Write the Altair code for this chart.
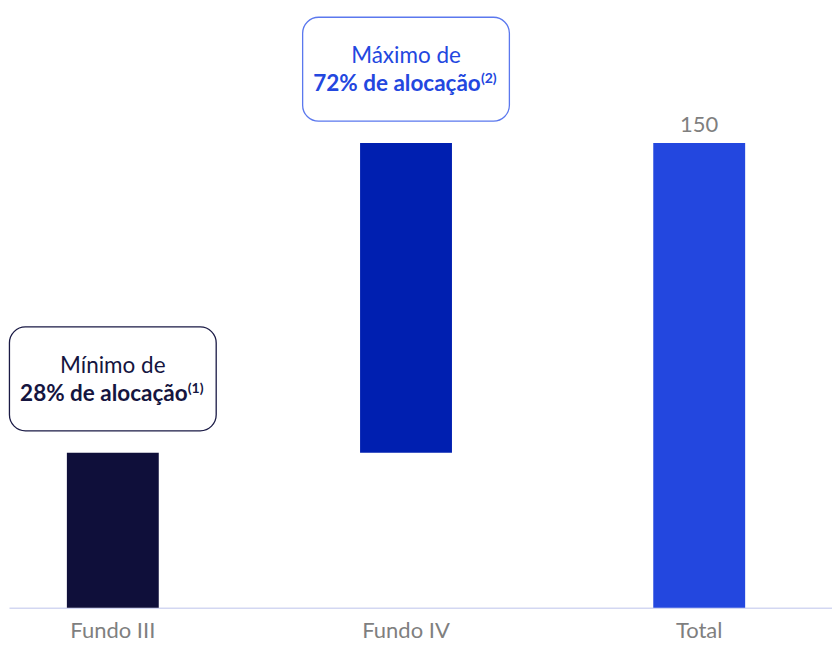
import altair as alt
import pandas as pd

categories = ["Fundo III", "Fundo IV", "Total"]
starts = [0, 50, 0]
ends = [50, 150, 150]
bar_colors = ["#0f0f3a", "#001fb0", "#2347df"]
total_label = ["", "", "150"]

ann_cat = ["Fundo III", "Fundo IV"]
ann_anchor = [50, 150]
ann_line1 = ["Mínimo de", "Máximo de"]
ann_line2 = ["28% de alocação", "72% de alocação"]
ann_sup = ["(1)", "(2)"]
ann_border = ["#1a1a45", "#5b78ee"]
ann_text = ["#15153f", "#2347df"]

bars = pd.DataFrame({"cat": categories, "start": starts, "end": ends,
                     "color": bar_colors, "label": total_label})
ann = pd.DataFrame({"cat": ann_cat, "anchor": ann_anchor, "l1": ann_line1,
                    "l2": ann_line2, "sup": ann_sup, "border": ann_border,
                    "tcolor": ann_text})

FONT = "Lato"

x = alt.X("cat:N", sort=categories, title=None,
          scale=alt.Scale(paddingInner=0.687, paddingOuter=0.247, align=0.4),
          axis=alt.Axis(labelAngle=0, ticks=False, labelPadding=13, labelFontSize=22,
                        labelColor="#7f7f7f", labelFont=FONT, domainColor="#d3d7f2",
                        domainWidth=1.5))
yscale = alt.Scale(domain=[0, 193.5], nice=False, zero=True)

base_bars = alt.Chart(bars).encode(x=x)

bar_layer = base_bars.mark_bar(width=92).encode(
    y=alt.Y("start:Q", scale=yscale, axis=None),
    y2="end:Q",
    color=alt.Color("color:N", scale=None),
)

label_layer = base_bars.mark_text(dy=-18, fontSize=22, font=FONT, color="#7f7f7f",
                                  baseline="middle").encode(
    y=alt.Y("end:Q", scale=yscale),
    text="label:N",
)

ab = alt.Chart(ann).encode(x=alt.X("cat:N", sort=categories))

box = ab.mark_bar(width=207, cornerRadius=16, fill="white", strokeWidth=1.3,
                  yOffset=-126, y2Offset=-22).encode(
    y=alt.Y("anchor:Q", scale=yscale),
    y2="anchor:Q",
    stroke=alt.Stroke("border:N", scale=None),
)

t1 = ab.mark_text(dy=-87, fontSize=22.5, font=FONT, baseline="middle").encode(
    y=alt.Y("anchor:Q", scale=yscale),
    text="l1:N",
    color=alt.Color("tcolor:N", scale=None),
)

t2 = ab.mark_text(dy=-59, dx=-9, fontSize=22.5, font=FONT, fontWeight="bold",
                  baseline="middle").encode(
    y=alt.Y("anchor:Q", scale=yscale),
    text="l2:N",
    color=alt.Color("tcolor:N", scale=None),
)

t3 = ab.mark_text(dy=-64, dx=75, fontSize=14, font=FONT, fontWeight="bold",
                  baseline="middle", align="left").encode(
    y=alt.Y("anchor:Q", scale=yscale),
    text="sup:N",
    color=alt.Color("tcolor:N", scale=None),
)

chart = alt.layer(bar_layer, label_layer, box, t1, t2, t3).properties(
    width=824, height=600, padding=0
).configure_view(stroke=None).configure_axis(grid=False)

chart.save("out.html", embed_options={"renderer": "svg", "actions": False})
